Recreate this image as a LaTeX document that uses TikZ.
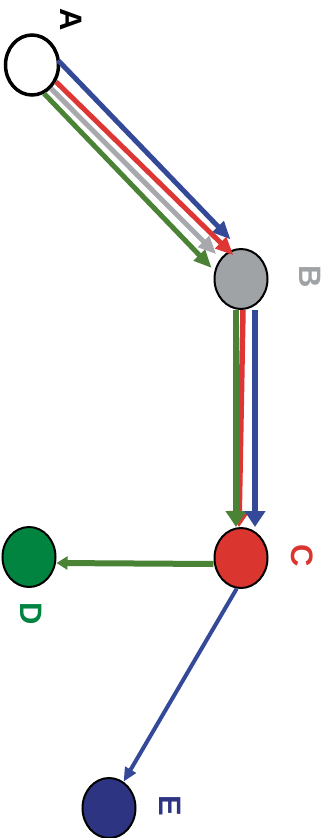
\documentclass[tikz,border=0pt]{standalone}
\usepackage{fontspec}
\setmainfont{Liberation Sans}
\usetikzlibrary{arrows.meta,shapes.geometric}
\definecolor{lineblue}{RGB}{52,73,152}
\definecolor{linered}{RGB}{221,54,52}
\definecolor{linegray}{RGB}{167,169,172}
\definecolor{linegreen}{RGB}{74,130,54}
\definecolor{nodegray}{RGB}{160,163,166}
\definecolor{nodered}{RGB}{218,54,47}
\definecolor{nodegreen}{RGB}{0,132,64}
\definecolor{nodenavy}{RGB}{45,53,130}
\tikzstyle{vertex}=[ellipse,draw=black,line width=2pt,minimum width=53pt,minimum height=60pt,inner sep=0pt]
\tikzstyle{letter}=[font=\fontsize{31}{31}\selectfont\bfseries,rotate=-90,inner sep=0pt]
\tikzstyle{edge}=[draw,line width=5pt,-{Triangle[length=18pt,width=15pt]}]
\tikzstyle{downedge}=[draw,line width=5.5pt,-{Triangle[length=16pt,width=20pt]}]

\begin{document}
\begin{tikzpicture}[x=1pt,y=-1pt]
    \useasboundingbox (0,0) rectangle (330,838);

    \node[vertex, fill=white, line width=3.5pt] (A) at (32,65) {};
    \foreach \x/\y/\name/\col in {241/279/B/nodegray, 241/558/C/nodered, 29/557/D/nodegreen, 109/808/E/nodenavy}
        \node[vertex, fill=\col] (\name) at (\x,\y) {};

    \foreach \x/\y/\name/\col in {71/20/A/black, 310/277/B/nodegray, 302/556/C/nodered, 31/614/D/nodegreen, 170/806/E/nodenavy}
        \node[letter, text=\col] (l\name) at (\x,\y) {\name};

    % A to B
    \path[edge, lineblue, shorten >=12pt, shorten <=-3pt] (A.5) -- (B.94);
    \path[edge, linered, shorten >=-6pt] (A.-35) -- (B.113);
    \path[edge, linegray, shorten >=6pt] (A.-51) -- (B.135);
    \path[edge, linegreen, shorten >=4pt] (A.-67) -- (B.163);

    % B to C
    \path[downedge, linered] ([xshift=2pt]B.south) -- ([xshift=-2pt]C.north);
    \path[downedge, linegreen] ([xshift=-5pt]B.south) -- ([xshift=-5pt]C.north);
    \path[downedge, lineblue] ([xshift=14pt]B.south) -- ([xshift=14pt]C.north);

    % C to D and E
    \draw[line width=6pt, linegreen, -{Triangle[length=11pt,width=13pt]}] ([yshift=-6pt]C.west) -- ([yshift=-6pt]D.east);
    \draw[line width=4pt, lineblue, -{Triangle[length=14pt,width=12pt]}] (C.-98) -- (E.61);

\end{tikzpicture}
\end{document}
